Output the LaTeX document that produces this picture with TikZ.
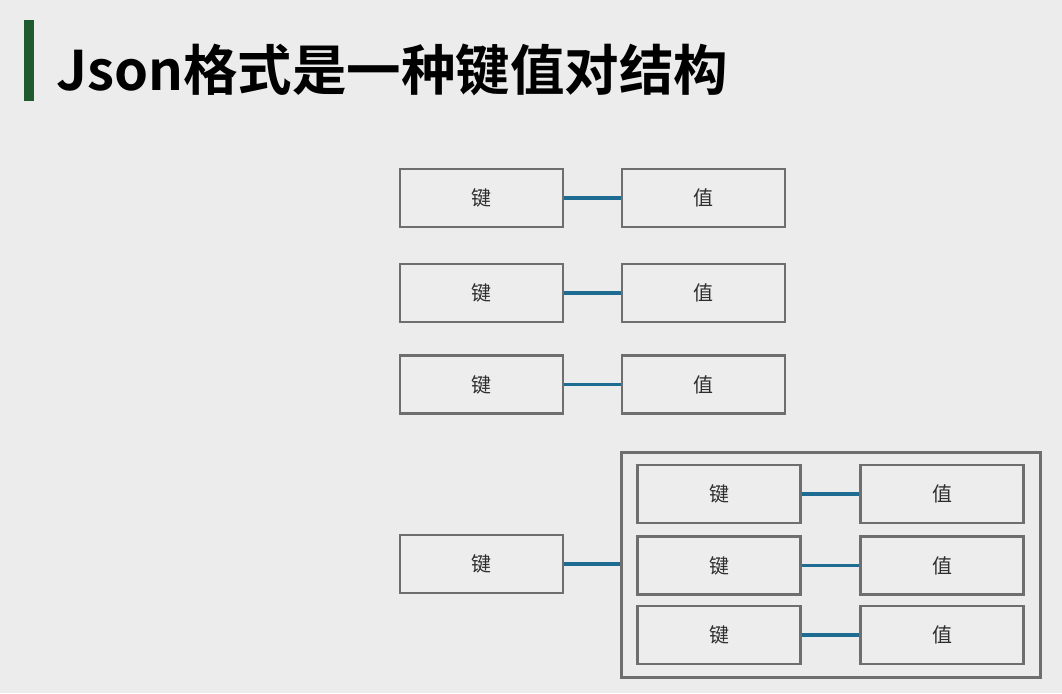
\documentclass[tikz,border=0pt]{standalone}
\usepackage{fontspec}
\newfontfamily\cjk{Noto Sans CJK SC}
\newfontfamily\cjkbold{Noto Sans CJK SC Bold}
\begin{document}
\begin{tikzpicture}[x=1pt,y=-1pt,
  kv/.style={draw=boxline,line width=2.2pt,fill=boxfill,minimum width=163pt,minimum height=58pt,
    inner sep=0pt,font=\cjk\fontsize{20}{22}\selectfont,text=txt},
  holder/.style={draw=boxline,line width=2.2pt,inner sep=0pt},
  link/.style={draw=linkblue,line width=3.4pt}]
\definecolor{bg}{HTML}{ECECEC}
\definecolor{boxfill}{HTML}{EDEDED}
\definecolor{boxline}{HTML}{6E6E6E}
\definecolor{linkblue}{HTML}{1F6C92}
\definecolor{txt}{HTML}{2E2E2E}
\definecolor{bar}{HTML}{1E5A2E}
\useasboundingbox[fill=bg] (0,0) rectangle (1062,693);
% heading
\fill[bar] (24,20) rectangle (34,101);
\node[anchor=base west,inner sep=0pt,font=\cjkbold\fontsize{54.5}{60}\selectfont,text=black] (title) at (56,90) {Json格式是一种键值对结构};
% three plain pairs
\node[kv] (k1) at (481.5,198) {键};
\node[kv] (v1) at (703.5,198) {值};
\node[kv] (k2) at (481.5,293) {键};
\node[kv] (v2) at (703.5,293) {值};
\node[kv] (k3) at (481.5,384.5) {键};
\node[kv] (v3) at (703.5,384.5) {值};
\draw[link] (k1) -- (v1);
\draw[link] (k2) -- (v2);
\draw[link] (k3) -- (v3);
% nested object
\node[holder,minimum width=419pt,minimum height=225pt] (obj) at (831,565) {};
\node[kv] (k4) at (481.5,564) {键};
\node[kv] (ka) at (719,494) {键};
\node[kv] (va) at (942,494) {值};
\node[kv] (kb) at (719,565.5) {键};
\node[kv] (vb) at (942,565.5) {值};
\node[kv] (kc) at (719,635) {键};
\node[kv] (vc) at (942,635) {值};
\draw[link] (k4.east) -- (k4.east -| obj.west);
\draw[link] (ka) -- (va);
\draw[link] (kb) -- (vb);
\draw[link] (kc) -- (vc);
\end{tikzpicture}
\end{document}
